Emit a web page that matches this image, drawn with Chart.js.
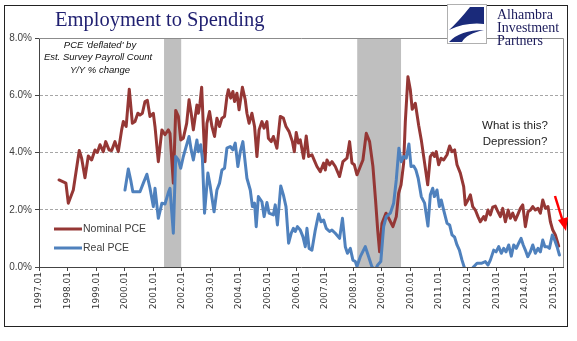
<!DOCTYPE html>
<html>
<head>
<meta charset="utf-8">
<script src="https://cdn.jsdelivr.net/npm/chart.js@4.4.1/dist/chart.umd.min.js"></script>
<style>
  html, body { margin: 0; padding: 0; background: #fff; }
  #wrap { width: 577px; height: 341px; position: relative; }
</style>
</head>
<body>
<div id="wrap"><canvas id="chart" width="577" height="341"></canvas></div>
<script>
// x values are months counted from 1997.01
const nominalMonths = [8.4, 11.3, 12.3, 14.4, 16.9, 17.9, 19.3, 20.7, 22.1, 23.5, 24.5, 25.6, 27.0, 28.0, 29.4, 30.5, 31.9, 33.3, 34.7, 35.4,
  36.6, 37.9, 39.2, 40.3, 41.5, 42.4, 43.4, 44.5, 45.5, 46.6, 48.0, 48.7, 50.1, 51.6, 52.9, 54.3, 55.0, 56.4, 57.4, 58.5,
  59.5, 60.6, 62.0, 63.0, 63.9, 64.8, 66.3, 66.9, 67.6, 68.3, 69.0, 69.7, 70.5, 71.6, 72.6, 73.7, 74.7, 75.8, 76.8, 77.9,
  78.9, 79.5, 80.5, 81.4, 82.1, 83.1, 84.0, 85.4, 86.6, 87.3, 88.2, 89.4, 90.5, 91.5, 92.4, 93.6, 94.5, 95.7, 96.3, 97.5,
  98.4, 99.9, 101.3, 102.6, 103.7, 105.0, 106.4, 107.2, 108.0, 108.9, 109.7, 111.1, 112.2, 113.2, 114.6, 115.5, 116.7, 118.1, 119.5, 120.2,
  120.9, 122.0, 123.0, 124.4, 126.2, 127.6, 129.3, 130.4, 131.4, 132.4, 133.5, 134.9, 136.0, 137.4, 138.8, 140.2, 141.3, 142.2, 143.0, 144.0,
  145.7, 147.2, 148.6, 150.0, 151.0, 152.0, 153.1, 153.8, 154.9, 155.9, 156.7, 158.0, 159.4, 160.5, 161.9, 163.2, 164.3, 165.3, 166.1, 166.8,
  167.8, 168.8, 169.9, 171.3, 172.4, 173.4, 174.5, 175.5, 176.9, 178.3, 179.0, 180.1, 181.1, 182.1, 183.2, 184.3, 185.3, 186.7, 187.4, 188.5,
  189.5, 190.5, 191.6, 192.7, 193.7, 194.7, 195.8, 197.0, 197.9, 198.9, 200.0, 201.1, 202.1, 203.1, 204.2, 205.3, 206.3, 207.3, 208.4, 209.5,
  210.5, 211.5, 212.6, 213.7, 214.7, 215.7, 216.8, 218.2];
const nominalPce = [3.04, 2.93, 2.23, 2.69, 4.07, 3.80, 3.12, 3.88, 3.74, 4.09, 4.00, 4.27, 4.03, 4.38, 4.09, 4.07, 4.38, 4.03, 4.79, 5.08,
  4.91, 6.21, 5.02, 5.08, 5.37, 5.31, 5.37, 5.78, 5.82, 5.26, 5.37, 4.91, 3.68, 4.79, 4.62, 4.79, 4.67, 2.93, 5.47, 5.26,
  4.44, 4.50, 5.02, 5.84, 5.37, 4.79, 5.66, 5.37, 5.72, 6.28, 4.91, 3.68, 5.02, 5.43, 4.91, 4.56, 5.20, 4.91, 5.20, 5.26,
  5.95, 6.19, 5.90, 6.13, 5.78, 6.07, 5.49, 6.28, 5.84, 5.37, 5.02, 5.37, 4.91, 3.86, 4.79, 5.08, 4.85, 5.08, 4.50, 4.38,
  4.56, 4.15, 5.26, 5.20, 4.91, 4.73, 4.38, 4.03, 4.70, 4.33, 4.44, 3.80, 4.58, 3.86, 3.92, 3.74, 3.51, 3.33, 3.63, 3.39,
  3.74, 3.57, 3.68, 3.51, 3.16, 3.68, 3.80, 4.38, 3.63, 3.57, 3.22, 3.51, 3.74, 4.67, 4.38, 3.51, 2.34, 1.29, 0.53, 1.53,
  1.88, 1.64, 1.41, 1.76, 2.58, 2.87, 3.63, 5.08, 6.65, 6.19, 5.51, 5.72, 4.95, 4.44, 3.63, 2.87, 3.86, 3.98, 3.86, 4.03,
  3.57, 3.80, 3.74, 3.92, 4.23, 4.03, 4.09, 3.57, 3.28, 2.81, 2.17, 2.34, 2.52, 2.11, 1.99, 1.76, 1.58, 1.76, 1.64, 1.99,
  1.82, 2.09, 2.13, 1.93, 1.76, 2.05, 1.58, 1.99, 1.70, 1.88, 1.64, 1.85, 2.05, 2.17, 1.41, 1.93, 1.99, 2.11, 1.99, 2.05,
  1.88, 2.34, 2.05, 2.11, 1.58, 1.29, 1.12, 0.73];

const realMonths = [36.1, 37.5, 38.5, 39.4, 42.4, 43.8, 45.3, 46.6, 48.0, 48.7, 50.1, 51.6, 52.9, 54.3, 55.0, 56.4, 57.4, 58.5, 59.5, 60.6,
  61.6, 63.0, 63.9, 64.8, 66.3, 66.9, 67.9, 68.6, 69.5, 70.9, 71.8, 73.5, 74.7, 75.8, 76.8, 77.9, 78.9, 80.3, 81.4, 82.4,
  83.5, 84.5, 85.6, 87.3, 88.7, 89.6, 90.5, 91.2, 92.1, 93.6, 94.5, 95.7, 96.6, 98.4, 99.2, 100.1, 101.5, 102.6, 103.7, 104.8,
  105.9, 106.8, 107.6, 108.5, 109.7, 110.8, 111.8, 112.5, 113.4, 114.6, 116.0, 117.4, 118.4, 119.5, 120.6, 122.0, 123.0, 124.4, 126.2, 127.4,
  128.6, 129.5, 130.7, 131.8, 132.8, 133.5, 134.9, 137.0, 138.4, 139.8, 141.2, 142.2, 143.5, 144.7, 145.8, 147.5, 148.9, 150.0, 151.1, 152.1,
  153.1, 154.2, 155.3, 156.2, 157.3, 158.2, 159.2, 160.5, 161.9, 163.3, 164.3, 165.3, 166.0, 167.1, 168.1, 168.9, 169.9, 171.3, 172.4, 173.4,
  174.5, 175.5, 176.5, 177.6, 178.7, 180.5, 182.5, 183.9, 185.7, 187.4, 188.5, 189.5, 190.9, 191.9, 193.0, 194.1, 195.1, 196.1, 197.2, 198.3,
  199.3, 200.4, 201.4, 202.4, 203.3, 204.2, 205.2, 206.3, 207.3, 208.4, 209.5, 210.5, 211.5, 212.4, 213.4, 214.3, 215.5, 216.5, 217.5, 218.5];
const realPce = [2.69, 3.42, 3.04, 2.63, 2.63, 2.93, 3.24, 2.75, 2.11, 2.75, 1.70, 2.23, 2.20, 2.60, 2.75, 1.18, 3.86, 3.74, 3.45, 3.86,
  4.15, 4.56, 4.09, 3.74, 4.44, 4.03, 4.27, 3.80, 1.88, 3.28, 2.87, 1.93, 2.69, 2.93, 3.39, 3.45, 4.15, 4.21, 4.09, 4.33,
  3.51, 4.03, 4.38, 3.10, 2.69, 2.11, 2.23, 1.41, 2.46, 2.28, 1.76, 2.25, 1.88, 1.82, 2.17, 1.47, 2.83, 2.52, 2.11, 0.83,
  1.18, 1.35, 1.24, 1.41, 1.29, 1.06, 0.71, 1.35, 0.65, 0.59, 1.29, 1.85, 1.58, 1.64, 1.35, 1.24, 1.29, 1.18, 1.00, 1.70,
  0.71, 0.48, 0.65, 0.24, 0.19, 0.02, 0.36, 0.71, 0.36, 0.00, -0.10, 0.07, 0.19, 1.41, 1.76, 1.88, 2.23, 3.04, 4.15, 3.68,
  3.86, 3.80, 4.30, 3.51, 3.53, 3.40, 3.10, 2.46, 2.23, 1.43, 2.52, 2.75, 2.46, 2.69, 2.11, 2.34, 1.99, 1.53, 1.47, 1.12,
  1.04, 0.77, 0.59, 0.24, -0.05, -0.20, 0.01, 0.13, 0.13, 0.19, 0.07, 0.24, 0.59, 0.53, 0.71, 0.48, 0.65, 0.53, 0.77, 0.38,
  0.77, 0.65, 0.83, 1.00, 0.77, 0.59, 0.36, 0.53, 0.77, 0.48, 0.65, 0.53, 0.94, 0.71, 0.71, 0.65, 1.12, 0.94, 0.71, 0.42];

// recession shading, [start, end] in months from 1997.01
const recessions = [[52.5, 59.7], [133.6, 152.0]];

const yTicks = [0, 2, 4, 6, 8];
const xTickLabels = ['1997.01', '1998.01', '1999.01', '2000.01', '2001.01', '2002.01', '2003.01', '2004.01', '2005.01', '2006.01',
  '2007.01', '2008.01', '2009.01', '2010.01', '2011.01', '2012.01', '2013.01', '2014.01', '2015.01'];

const toPoints = (xs, ys) => xs.map((x, i) => ({ x: x, y: ys[i] }));

const recessionBands = {
  id: 'recessionBands',
  beforeDatasetsDraw(chart) {
    const { ctx, chartArea, scales } = chart;
    ctx.save();
    ctx.fillStyle = '#bfbfbf';
    recessions.forEach(([a, b]) => {
      const x0 = scales.x.getPixelForValue(a);
      const x1 = scales.x.getPixelForValue(b);
      ctx.fillRect(x0, chartArea.top, x1 - x0, chartArea.bottom - chartArea.top);
    });
    ctx.restore();
  }
};

const decorations = {
  id: 'decorations',
  beforeDraw(chart) {
    const { ctx } = chart;
    ctx.save();
    ctx.fillStyle = '#fff';
    ctx.fillRect(0, 0, chart.width, chart.height);
    ctx.restore();
  },
  afterDraw(chart) {
    const { ctx, chartArea } = chart;
    ctx.save();

    // plot frame, top and right
    ctx.strokeStyle = '#8c8c8c';
    ctx.lineWidth = 1;
    ctx.beginPath();
    ctx.moveTo(chartArea.left, chartArea.top + 0.5);
    ctx.lineTo(chartArea.right + 0.5, chartArea.top + 0.5);
    ctx.lineTo(chartArea.right + 0.5, chartArea.bottom);
    ctx.stroke();

    // outer border
    ctx.strokeStyle = '#222';
    ctx.strokeRect(4.5, 5.5, 563, 321);

    // title
    ctx.fillStyle = '#1f1f70';
    ctx.font = '20.5px "Liberation Serif", serif';
    ctx.textBaseline = 'middle';
    ctx.textAlign = 'left';
    ctx.fillText('Employment to Spending', 55, 21);

    // logo
    ctx.fillStyle = '#fff';
    ctx.fillRect(447, 4, 40, 40);
    ctx.strokeStyle = '#b0b0b0';
    ctx.strokeRect(447.5, 4.5, 39, 39);
    ctx.fillStyle = '#1a2a7a';
    ctx.beginPath();
    ctx.moveTo(484, 7);
    ctx.lineTo(470, 7);
    ctx.quadraticCurveTo(458, 22, 449, 30);
    ctx.quadraticCurveTo(466, 22, 484, 24);
    ctx.closePath();
    ctx.fill();
    ctx.beginPath();
    ctx.moveTo(449, 42);
    ctx.quadraticCurveTo(460, 30, 484, 30);
    ctx.quadraticCurveTo(466, 34, 462, 42);
    ctx.closePath();
    ctx.fill();
    ctx.fillStyle = '#1a1a5a';
    ctx.font = '14px "Liberation Serif", serif';
    ctx.fillText('Alhambra', 497, 15);
    ctx.fillText('Investment', 497, 28);
    ctx.fillText('Partners', 497, 41);

    // note under the top frame
    ctx.fillStyle = '#111';
    ctx.font = 'italic 9.5px "Liberation Sans", sans-serif';
    ctx.textAlign = 'center';
    ctx.fillText("PCE 'deflated' by", 100, 45);
    ctx.fillText('Est. Survey Payroll Count', 98, 57.5);
    ctx.fillText('Y/Y % change', 100, 70);

    ctx.fillStyle = '#222';
    ctx.font = '11.5px "Liberation Sans", sans-serif';
    ctx.fillText('What is this?', 515, 126);
    ctx.fillText('Depression?', 515, 142);

    // legend
    const legend = [['Nominal PCE', '#953735', 229], ['Real PCE', '#4f81bd', 248]];
    ctx.textAlign = 'left';
    ctx.font = '10.5px "Liberation Sans", sans-serif';
    legend.forEach(([label, color, y]) => {
      ctx.strokeStyle = color;
      ctx.lineWidth = 3;
      ctx.beginPath();
      ctx.moveTo(54, y);
      ctx.lineTo(82, y);
      ctx.stroke();
      ctx.fillStyle = '#404040';
      ctx.fillText(label, 83, y);
    });

    // red arrow
    ctx.strokeStyle = '#ff0000';
    ctx.fillStyle = '#ff0000';
    ctx.lineWidth = 2.5;
    ctx.beginPath();
    ctx.moveTo(555, 196);
    ctx.lineTo(563, 222);
    ctx.stroke();
    ctx.beginPath();
    ctx.moveTo(566, 231);
    ctx.lineTo(558, 220);
    ctx.lineTo(568, 217);
    ctx.closePath();
    ctx.fill();

    ctx.restore();
  }
};

new Chart(document.getElementById('chart'), {
  type: 'line',
  data: {
    datasets: [
      {
        label: 'Nominal PCE',
        data: toPoints(nominalMonths, nominalPce),
        borderColor: '#953735',
        borderWidth: 3,
        order: 1
      },
      {
        label: 'Real PCE',
        data: toPoints(realMonths, realPce),
        borderColor: '#4f81bd',
        borderWidth: 3,
        order: 0
      }
    ]
  },
  options: {
    responsive: false,
    animation: false,
    events: [],
    layout: { padding: { left: 0, top: 38, right: 14, bottom: 0 } },
    elements: {
      point: { radius: 0 },
      line: { tension: 0, borderJoinStyle: 'round', borderCapStyle: 'round' }
    },
    plugins: { legend: { display: false }, tooltip: { enabled: false } },
    scales: {
      x: {
        type: 'linear',
        min: 0,
        max: 220,
        afterFit: scale => { scale.height = 74; },
        afterBuildTicks: scale => {
          // one tick each January
          scale.ticks = xTickLabels.map((_, i) => ({ value: i * 12 }));
        },
        ticks: {
          autoSkip: false,
          minRotation: 90,
          maxRotation: 90,
          padding: 1,
          color: '#333',
          font: { family: '"DejaVu Sans", sans-serif', size: 9 },
          callback: v => xTickLabels[Math.round(v / 12)]
        },
        grid: { drawOnChartArea: false, drawTicks: true, tickLength: 4, tickColor: '#444' },
        border: { display: true, color: '#444', width: 1 }
      },
      y: {
        min: 0,
        max: 8,
        afterFit: scale => { scale.width = 39; },
        afterBuildTicks: scale => {
          scale.ticks = yTicks.map(v => ({ value: v }));
        },
        ticks: {
          padding: 3,
          color: '#404040',
          font: { family: '"Liberation Sans", sans-serif', size: 10 },
          callback: v => v.toFixed(1) + '%'
        },
        grid: {
          color: ctx => (ctx.tick && ctx.tick.value > 0 && ctx.tick.value < 8) ? '#a6a6a6' : 'rgba(0,0,0,0)',
          tickColor: '#444',
          tickLength: 4,
          tickBorderDash: [],
          lineWidth: 1
        },
        border: { display: true, color: '#444', width: 1, dash: [3, 2] }
      }
    }
  },
  plugins: [recessionBands, decorations]
});
</script>
</body>
</html>
